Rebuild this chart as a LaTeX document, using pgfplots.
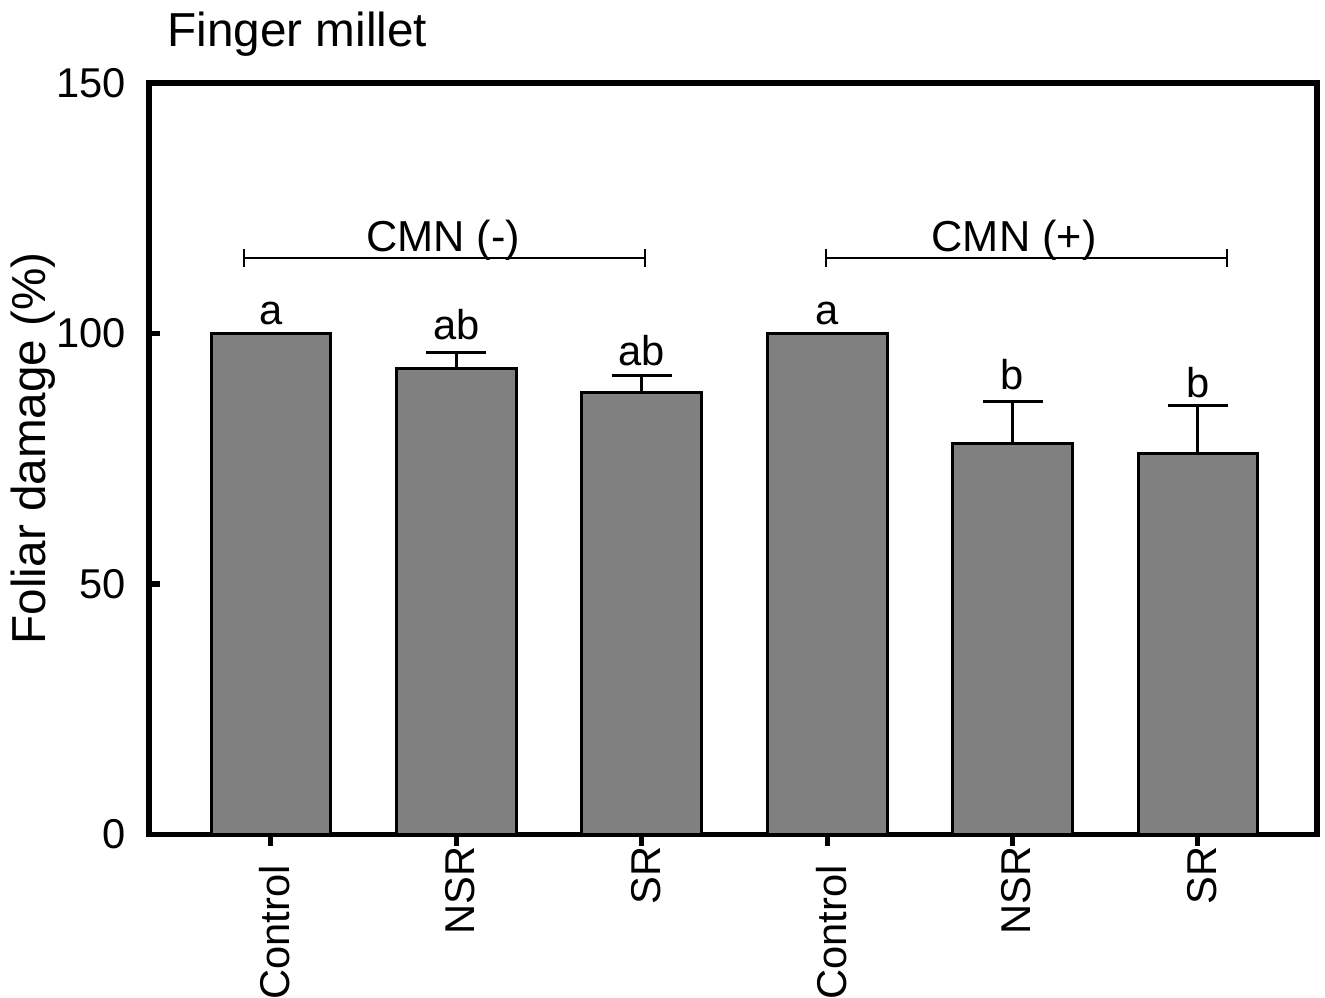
\documentclass[border=0pt]{standalone}
\usepackage{pgfplots}
\pgfplotsset{compat=1.18}
\usepackage{fontspec}
\setmainfont{Liberation Sans}
\begin{document}
\fontsize{12.5pt}{15pt}\selectfont
\begin{tikzpicture}
\begin{axis}[
  scale only axis,
  width=350.4pt, height=225.45pt,
  xmin=-0.658, xmax=5.642,
  ymin=0, ymax=150,
  ytick={0,50,100,150},
  xtick={0,1,2,3,4,5},
  xticklabels={Control\kern0.45em,NSR,SR,Control\kern0.45em,NSR,SR},
  xtick pos=bottom, ytick pos=left,
  xtick align=outside, ytick align=inside,
  major tick length=3.4pt,
  major tick style={line width=1.5pt, black},
  axis line style={line width=1.6pt},
  xticklabel style={rotate=90, anchor=east, inner sep=0pt, yshift=-1.2pt},
  yticklabel style={anchor=east, inner sep=0pt, xshift=-6.7pt},
  /pgf/number format/assume math mode=true,
  ylabel={Foliar damage (\%)},
  ylabel style={at={(axis description cs:-0.089,0.514)}, anchor=base, rotate=0, font=\fontsize{14.3pt}{17pt}\selectfont},
  clip=false,
]
\addplot[ybar, bar width=0.647, fill=black!50, draw=black, line width=0.9pt,
  error bars/.cd, y dir=plus, y explicit,
  error bar style={line width=0.9pt, black},
  error mark options={rotate=90, mark size=9pt, line width=0.9pt, black}]
  table[x=x, y=y, y error=e] {
x y e
0 100 0
1 93.0 3.3
2 88.2 3.5
3 100 0
4 78.0 8.5
5 76.0 9.7
};
% significance letters
\node[anchor=base, inner sep=0pt] at (axis cs:0,101.7) {a};
\node[anchor=base, inner sep=0pt] at (axis cs:1,98.9) {ab};
\node[anchor=base, inner sep=0pt] at (axis cs:2,93.7) {ab};
\node[anchor=base, inner sep=0pt] at (axis cs:3,101.7) {a};
\node[anchor=base, inner sep=0pt] at (axis cs:4,88.9) {b};
\node[anchor=base, inner sep=0pt] at (axis cs:5,87.3) {b};
% group brackets
\draw[line width=0.8pt] (axis cs:-0.146,113.3) -- (axis cs:-0.146,116.9)
  (axis cs:-0.146,115.1) -- (axis cs:2.017,115.1)
  (axis cs:2.017,113.3) -- (axis cs:2.017,116.9);
\draw[line width=0.8pt] (axis cs:2.994,113.3) -- (axis cs:2.994,116.9)
  (axis cs:2.994,115.1) -- (axis cs:5.157,115.1)
  (axis cs:5.157,113.3) -- (axis cs:5.157,116.9);
\node[anchor=base, inner sep=0pt, font=\fontsize{13pt}{15pt}\selectfont] at (axis cs:0.928,116.3) {CMN (-)};
\node[anchor=base, inner sep=0pt, font=\fontsize{13pt}{15pt}\selectfont] at (axis cs:4.008,116.3) {CMN (+)};
% title
\node[anchor=base west, inner sep=0pt, xshift=5.4pt, yshift=10.8pt, font=\fontsize{14.3pt}{17pt}\selectfont] at (rel axis cs:0,1) {Finger millet};
\coordinate (SW) at (rel axis cs:0,0);
\end{axis}
\pgfresetboundingbox
\path[use as bounding box] ([shift={(-44.7pt,-48.75pt)}]SW) rectangle ([shift={(352.8pt,250.35pt)}]SW);
\end{tikzpicture}
\end{document}
